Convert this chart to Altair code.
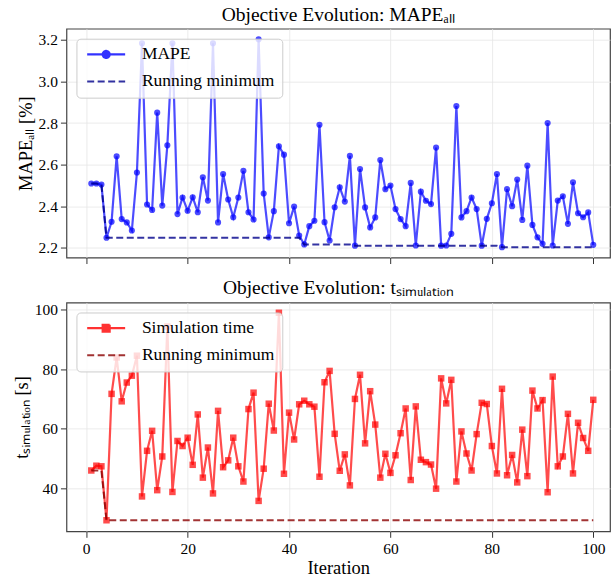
import altair as alt
import pandas as pd

FONT = "Liberation Serif"

iterations = list(range(1, 101))

mape = [
    2.509, 2.509, 2.504, 2.248, 2.325, 2.640, 2.338, 2.322, 2.283, 2.562,
    3.184, 2.408, 2.382, 2.850, 2.403, 2.693, 3.184, 2.362, 2.442, 2.378,
    2.443, 2.371, 2.539, 2.427, 3.184, 2.322, 2.555, 2.432, 2.347, 2.442,
    2.570, 2.371, 2.336, 3.203, 2.461, 2.250, 2.376, 2.688, 2.648, 2.318,
    2.398, 2.259, 2.216, 2.304, 2.330, 2.792, 2.323, 2.235, 2.395, 2.491,
    2.422, 2.642, 2.210, 2.579, 2.394, 2.298, 2.346, 2.622, 2.482, 2.499,
    2.386, 2.338, 2.304, 2.512, 2.211, 2.470, 2.426, 2.410, 2.682, 2.210,
    2.211, 2.267, 2.882, 2.346, 2.376, 2.442, 2.386, 2.210, 2.339, 2.414,
    2.555, 2.203, 2.482, 2.400, 2.528, 2.334, 2.595, 2.310, 2.250, 2.219,
    2.800, 2.211, 2.427, 2.448, 2.315, 2.515, 2.366, 2.347, 2.370, 2.214,
]

sim_time = [
    46.0, 47.6, 47.4, 29.3, 71.7, 83.9, 69.2, 75.5, 77.8, 84.5,
    37.3, 52.6, 59.3, 39.4, 50.7, 94.3, 38.8, 55.9, 54.2, 57.0,
    47.9, 64.8, 43.6, 53.7, 38.3, 66.0, 47.1, 49.4, 57.0, 47.4,
    42.3, 66.6, 72.1, 35.8, 46.6, 68.4, 59.4, 98.9, 44.9, 65.4,
    56.4, 68.2, 69.4, 68.2, 67.4, 43.9, 75.6, 79.4, 58.3, 45.9,
    51.4, 41.0, 70.0, 78.1, 55.1, 72.6, 61.4, 43.6, 51.6, 45.2,
    51.1, 58.5, 66.8, 42.8, 67.5, 49.6, 48.8, 48.0, 39.9, 76.9,
    68.5, 76.4, 42.3, 59.1, 51.7, 46.0, 58.2, 68.7, 68.3, 54.2,
    45.0, 73.4, 44.4, 51.2, 42.0, 59.7, 44.1, 72.8, 66.8, 69.6,
    38.7, 77.5, 47.4, 50.7, 65.0, 45.0, 62.0, 56.9, 52.6, 69.7,
]

x_ticks = [0, 20, 40, 60, 80, 100]
mape_ticks = [2.2, 2.4, 2.6, 2.8, 3.0, 3.2]
sim_ticks = [40, 60, 80, 100]

df = pd.DataFrame({"iteration": iterations, "mape": mape, "sim": sim_time})

X_DOMAIN = [-3.9, 103.3]
W = 544

CIRCLE_PATH = "M-1,0L6.6,0M2.1,0A0.7,0.7,0,1,1,3.5,0A0.7,0.7,0,1,1,2.1,0Z"
SQUARE_PATH = "M-1,0L6.6,0M2.1,-0.67L3.5,-0.67L3.5,0.67L2.1,0.67Z"
DASH_PATH = "M-1,0L6.6,0"


def make_legend(main_name, main_path, main_color, min_color):
    cond = f"datum.value === '{main_name}'"
    return alt.Legend(
        title=None,
        orient="top-left",
        offset=10,
        padding=7,
        symbolSize=100,
        symbolType=alt.ExprRef(expr=f"{cond} ? '{main_path}' : '{DASH_PATH}'"),
        symbolFillColor=alt.ExprRef(expr=f"{cond} ? '{main_color}' : 'transparent'"),
        symbolStrokeColor=alt.ExprRef(expr=f"{cond} ? '{main_color}' : '{min_color}'"),
        symbolDash=alt.ExprRef(expr=f"{cond} ? [1, 0] : [7, 3.5]"),
        symbolOpacity=alt.ExprRef(expr=f"{cond} ? 0.7 : 0.8"),
        symbolStrokeWidth=alt.ExprRef(expr=f"{cond} ? 2.2 : 2"),
        labelFont=FONT,
        labelFontSize=17.5,
        labelColor="black",
        labelOffset=41,
        rowPadding=8,
        fillColor="rgba(255,255,255,0.8)",
        strokeColor="#cccccc",
        cornerRadius=4,
    )


def panel(field, main_name, main_color, min_color, shape, marker_size, main_path,
          y_domain, y_ticks, y_fmt, y_title, title, height, bottom):
    series_domain = [main_name, "Running minimum"]
    color = alt.Color(
        "series:N",
        scale=alt.Scale(domain=series_domain, range=[main_color, min_color]),
        legend=make_legend(main_name, main_path, main_color, min_color),
    )
    x_axis = alt.Axis(
        values=x_ticks,
        labels=bottom,
        title="Iteration" if bottom else None,
        format="d",
        labelPadding=4,
        titlePadding=2,
    )
    x = alt.X("iteration:Q", scale=alt.Scale(domain=X_DOMAIN, nice=False, zero=False),
              axis=x_axis)
    y = alt.Y(f"{field}:Q",
              scale=alt.Scale(domain=y_domain, nice=False, zero=False),
              axis=alt.Axis(values=y_ticks, format=y_fmt, title=y_title, titlePadding=3))
    base = alt.Chart(df)
    main = base.transform_calculate(series=f"'{main_name}'").mark_line(
        strokeWidth=2.2,
        opacity=0.7,
        point=alt.OverlayMarkDef(filled=True, shape=shape, size=marker_size,
                                 opacity=0.7, color=main_color),
    ).encode(x=x, y=y, color=color)
    runmin = base.transform_window(
        runmin=f"min({field})", frame=[None, 0], sort=[alt.SortField("iteration")]
    ).transform_calculate(series="'Running minimum'").mark_line(
        strokeWidth=2, opacity=0.8, strokeDash=[7, 3.5]
    ).encode(
        x=alt.X("iteration:Q"),
        y=alt.Y("runmin:Q"),
        color=alt.Color("series:N"),
    )
    return alt.layer(main, runmin).properties(
        width=W,
        height=height,
        title=alt.TitleParams(title, font=FONT, fontSize=19.5, fontWeight="normal",
                              color="black", offset=3.5),
    )


top = panel("mape", "MAPE", "#0000ff", "#00008b", "circle", 38, CIRCLE_PATH,
            [2.153, 3.254], mape_ticks, ".1f", "MAPEₐₗₗ [%]",
            "Objective Evolution: MAPEₐₗₗ", 229, False)
bottom = panel("sim", "Simulation time", "#ff0000", "#8b0000", "square", 42, SQUARE_PATH,
               [25.6, 102.35], sim_ticks, "d", "tₛᵢₘᵤₗₐₜᵢₒₙ [s]",
               "Objective Evolution: tₛᵢₘᵤₗₐₜᵢₒₙ", 229, True)

chart = alt.vconcat(top, bottom, spacing=12).resolve_scale(
    color="independent"
).resolve_legend(color="independent").properties(
    padding={"left": 11.5, "top": 3.5, "right": 0, "bottom": 0},
    background="white",
).configure_view(
    stroke="#444444", strokeWidth=1.2
).configure_axis(
    domain=False,
    grid=True,
    gridColor="#e6e6e6",
    gridWidth=0.8,
    tickColor="#333333",
    tickSize=6,
    tickWidth=1,
    labelFont=FONT,
    labelFontSize=15.5,
    labelColor="black",
    labelPadding=3,
    titleFont=FONT,
    titleFontSize=18.5,
    titleFontWeight="normal",
    titleColor="black",
    titlePadding=8,
)

chart.save("out.html", embed_options={"renderer": "svg", "actions": False})
